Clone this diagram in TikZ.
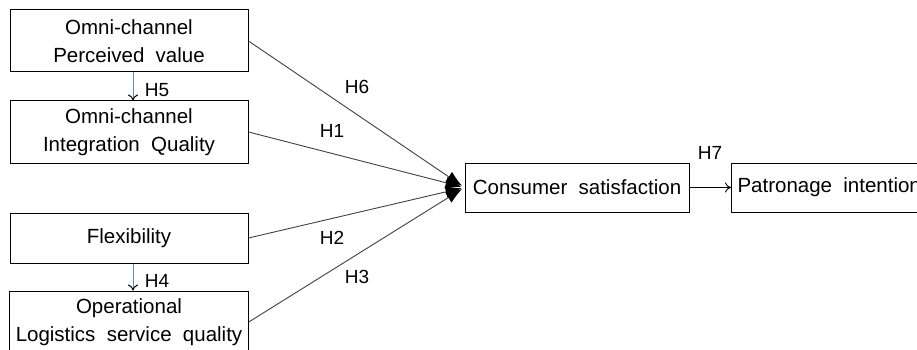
\documentclass[tikz,border=0pt]{standalone}
\usepackage{fontspec}
\setmainfont{Liberation Sans}
\usetikzlibrary{arrows.meta}
\tikzstyle{box}=[draw, line width=1pt, align=center, minimum width=238pt, minimum height=62pt, inner sep=6pt, font={\fontsize{20.5}{28}\selectfont\spaceskip=0.55em\relax}]
\tikzstyle{hyp}=[font={\fontsize{19}{20}\selectfont}, inner sep=0pt]
\tikzstyle{path}=[draw=black!75, line width=0.9pt, -{Latex[length=16pt,width=12pt,black]}]
\tikzstyle{down}=[draw={rgb,255:red,84;green,141;blue,212}, line width=1pt, -{To[black,length=6pt,width=10pt]}]

\begin{document}
\begin{tikzpicture}[x=1pt, y=-1pt]
    \useasboundingbox (0,0) rectangle (917,350);
    \clip (0,0) rectangle (917,350);
% Boxes
    \node[box] (value) at (129,41) {Omni-channel\\Perceived value};
    \node[box] (integ) at (129,132) {Omni-channel\\Integration Quality};
    \node[box, minimum height=50pt] (flex) at (129,238) {Flexibility};
    \node[box] (logis) at (129,322) {Operational\\Logistics service quality};
    \node[box, minimum width=224pt, minimum height=49pt] (satis) at (577,187.5) {Consumer satisfaction};
    \node[box, minimum width=0pt, minimum height=49pt, anchor=west] (patro) at (731,187.5) {Patronage intention};
% Paths
    \draw[down] ([xshift=4pt]value.south) -- ([xshift=4pt]integ.north);
    \draw[down] ([xshift=4pt]flex.south) -- ([xshift=4pt]logis.north);
    \draw[path, shorten >=3pt] (value.east) -- (satis.west);
    \draw[path, shorten >=3pt] (integ.east) -- (satis.west);
    \draw[path, shorten >=3pt] (flex.east) -- (satis.west);
    \draw[path, shorten >=3pt] (logis.east) -- (satis.west);
    \draw[line width=0.9pt, -{To[length=6pt,width=10pt]}] (satis.east) -- (patro.west);
% Labels
    \node[hyp] (h5) at (157,90) {H5};
    \node[hyp] (h4) at (157,281) {H4};
    \node[hyp] (h6) at (357,87) {H6};
    \node[hyp] (h1) at (332,131) {H1};
    \node[hyp] (h2) at (332,238) {H2};
    \node[hyp] (h3) at (357,277) {H3};
    \node[hyp] (h7) at (710,153) {H7};

\end{tikzpicture}
\end{document}
